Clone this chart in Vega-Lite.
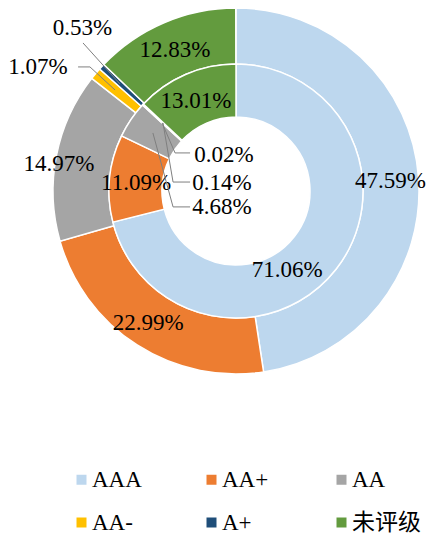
{
  "$schema": "https://vega.github.io/schema/vega-lite/v6.json",
  "width": 386,
  "height": 382,
  "autosize": {"type": "none"},
  "padding": {"left": 43, "top": 0, "right": 0, "bottom": 154},
  "background": "white",
  "config": {
    "view": {"stroke": null},
    "font": "'Liberation Serif', 'Times New Roman', serif",
    "text": {"font": "'Liberation Serif', 'Times New Roman', serif", "fontSize": 23, "color": "black", "baseline": "middle", "align": "center"}
  },
  "datasets": {
    "ratings": [
      {"ring": "outer", "rating": "AAA", "idx": 1, "value": 47.59, "label": "47.59%"},
      {"ring": "outer", "rating": "AA+", "idx": 2, "value": 22.99, "label": "22.99%"},
      {"ring": "outer", "rating": "AA", "idx": 3, "value": 14.97, "label": "14.97%"},
      {"ring": "outer", "rating": "AA-", "idx": 4, "value": 1.07, "label": "1.07%"},
      {"ring": "outer", "rating": "A+", "idx": 5, "value": 0.53, "label": "0.53%"},
      {"ring": "outer", "rating": "未评级", "idx": 6, "value": 12.83, "label": "12.83%"},
      {"ring": "inner", "rating": "AAA", "idx": 1, "value": 71.06, "label": "71.06%"},
      {"ring": "inner", "rating": "AA+", "idx": 2, "value": 11.09, "label": "11.09%"},
      {"ring": "inner", "rating": "AA", "idx": 3, "value": 4.68, "label": "4.68%"},
      {"ring": "inner", "rating": "AA-", "idx": 4, "value": 0.14, "label": "0.14%"},
      {"ring": "inner", "rating": "A+", "idx": 5, "value": 0.02, "label": "0.02%"},
      {"ring": "inner", "rating": "未评级", "idx": 6, "value": 13.01, "label": "13.01%"}
    ],
    "leaders": [
      {"label": "0.53%", "seq": 1, "x": -0.836, "y": 0.809},
      {"label": "0.53%", "seq": 2, "x": -0.634, "y": 0.585},
      {"label": "1.07%", "seq": 1, "x": -0.863, "y": 0.678},
      {"label": "1.07%", "seq": 2, "x": -0.798, "y": 0.678},
      {"label": "1.07%", "seq": 3, "x": -0.661, "y": 0.552},
      {"label": "0.02%", "seq": 1, "x": -0.251, "y": 0.208},
      {"label": "0.02%", "seq": 2, "x": -0.333, "y": 0.208},
      {"label": "0.02%", "seq": 3, "x": -0.404, "y": 0.372},
      {"label": "0.14%", "seq": 1, "x": -0.251, "y": 0.049},
      {"label": "0.14%", "seq": 2, "x": -0.344, "y": 0.049},
      {"label": "0.14%", "seq": 3, "x": -0.399, "y": 0.372},
      {"label": "4.68%", "seq": 1, "x": -0.251, "y": -0.087},
      {"label": "4.68%", "seq": 2, "x": -0.344, "y": -0.087},
      {"label": "4.68%", "seq": 3, "x": -0.454, "y": 0.317}
    ],
    "leaderText": [
      {"label": "0.53%", "x": -0.839, "y": 0.891},
      {"label": "1.07%", "x": -1.082, "y": 0.678},
      {"label": "0.02%", "x": -0.066, "y": 0.197},
      {"label": "0.14%", "x": -0.077, "y": 0.044},
      {"label": "4.68%", "x": -0.077, "y": -0.087}
    ]
  },
  "layer": [
    {
      "data": {"name": "ratings"},
      "transform": [{"filter": "datum.ring === 'outer'"}],
      "mark": {"type": "arc", "radius": 183, "radius2": 127, "stroke": "white", "strokeWidth": 1.5},
      "encoding": {
        "theta": {"field": "value", "type": "quantitative", "stack": true, "scale": {"domain": [0, 100]}},
        "order": {"field": "idx", "type": "quantitative"},
        "color": {
          "field": "rating", "type": "nominal",
          "scale": {
            "domain": ["AAA", "AA+", "AA", "AA-", "A+", "未评级"],
            "range": ["#BDD7EE", "#ED7D31", "#A5A5A5", "#FFC000", "#1F4E79", "#639B3E"]
          },
          "legend": {
            "orient": "none", "legendX": 27, "legendY": 468, "columns": 3, "direction": "horizontal", "title": null,
            "symbolType": "square", "symbolSize": 100, "symbolStrokeWidth": 0,
            "labelFont": "'Liberation Serif', 'Times New Roman', 'Noto Sans CJK SC', serif", "labelFontSize": 23, "labelColor": "black",
            "labelOffset": -1, "columnPadding": 39, "rowPadding": 19, "gridAlign": "all", "padding": 0, "labelLimit": 200
          }
        }
      }
    },
    {
      "data": {"name": "ratings"},
      "transform": [{"filter": "datum.ring === 'inner'"}],
      "mark": {"type": "arc", "radius": 127, "radius2": 74, "stroke": "white", "strokeWidth": 1.5},
      "encoding": {
        "theta": {"field": "value", "type": "quantitative", "stack": true},
        "order": {"field": "idx", "type": "quantitative"},
        "color": {"field": "rating", "type": "nominal"}
      }
    },
    {
      "data": {"name": "ratings"},
      "transform": [{"filter": "datum.ring === 'outer'"}],
      "mark": {"type": "text", "radius": 155, "dy": 2},
      "encoding": {
        "theta": {"field": "value", "type": "quantitative", "stack": true},
        "order": {"field": "idx", "type": "quantitative"},
        "detail": {"field": "rating"},
        "text": {"condition": {"test": "indexof(['AAA','未评级'], datum.rating) >= 0", "field": "label", "type": "nominal"}, "value": ""}
      }
    },
    {
      "data": {"name": "ratings"},
      "transform": [{"filter": "datum.ring === 'outer'"}],
      "mark": {"type": "text", "radius": 155, "dx": -4, "dy": 2},
      "encoding": {
        "theta": {"field": "value", "type": "quantitative", "stack": true},
        "order": {"field": "idx", "type": "quantitative"},
        "detail": {"field": "rating"},
        "text": {"condition": {"test": "datum.rating === 'AA+'", "field": "label", "type": "nominal"}, "value": ""}
      }
    },
    {
      "data": {"name": "ratings"},
      "transform": [{"filter": "datum.ring === 'outer'"}],
      "mark": {"type": "text", "radius": 155, "dx": -25, "dy": 3},
      "encoding": {
        "theta": {"field": "value", "type": "quantitative", "stack": true},
        "order": {"field": "idx", "type": "quantitative"},
        "detail": {"field": "rating"},
        "text": {"condition": {"test": "datum.rating === 'AA'", "field": "label", "type": "nominal"}, "value": ""}
      }
    },
    {
      "data": {"name": "ratings"},
      "transform": [{"filter": "datum.ring === 'inner'"}],
      "mark": {"type": "text", "radius": 100.5, "dy": 2},
      "encoding": {
        "theta": {"field": "value", "type": "quantitative", "stack": true},
        "order": {"field": "idx", "type": "quantitative"},
        "detail": {"field": "rating"},
        "text": {"condition": {"test": "indexof(['AA+','未评级'], datum.rating) >= 0", "field": "label", "type": "nominal"}, "value": ""}
      }
    },
    {
      "data": {"name": "ratings"},
      "transform": [{"filter": "datum.ring === 'inner'"}],
      "mark": {"type": "text", "radius": 100.5, "dx": -28, "dy": 17},
      "encoding": {
        "theta": {"field": "value", "type": "quantitative", "stack": true},
        "order": {"field": "idx", "type": "quantitative"},
        "detail": {"field": "rating"},
        "text": {"condition": {"test": "datum.rating === 'AAA'", "field": "label", "type": "nominal"}, "value": ""}
      }
    },
    {
      "data": {"name": "leaders"},
      "mark": {"type": "line", "color": "#7F7F7F", "strokeWidth": 1},
      "encoding": {
        "x": {"field": "x", "type": "quantitative", "scale": {"domain": [-1.05464, 1.05464], "nice": false, "zero": false}, "axis": null},
        "y": {"field": "y", "type": "quantitative", "scale": {"domain": [-1.04372, 1.04372], "nice": false, "zero": false}, "axis": null},
        "detail": {"field": "label"},
        "order": {"field": "seq", "type": "quantitative"}
      }
    },
    {
      "data": {"name": "leaderText"},
      "mark": {"type": "text"},
      "encoding": {
        "x": {"field": "x", "type": "quantitative"},
        "y": {"field": "y", "type": "quantitative"},
        "text": {"field": "label", "type": "nominal"}
      }
    }
  ]
}
